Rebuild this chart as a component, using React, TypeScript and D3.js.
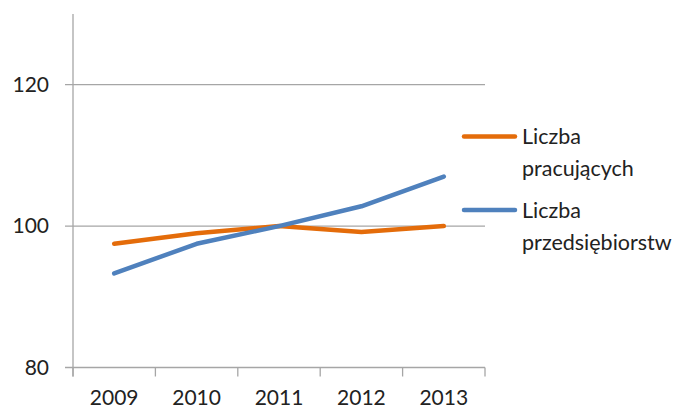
import React from "react";
import * as d3 from "d3";

const categories = ["2009", "2010", "2011", "2012", "2013"];
const pracujacych = [97.5, 99.0, 100.0, 99.15, 100.0];
const przedsiebiorstw = [93.3, 97.5, 100.0, 102.8, 107.0];
const yTicks = [80, 100, 120];
const seriesNames = ["Liczba pracujących", "Liczba przedsiębiorstw"];
const legendLines = [["Liczba", "pracujących"], ["Liczba", "przedsiębiorstw"]];

const W = 681, H = 410;
const left = 73, right = 485, top = 14, bottom = 367.5;
const FONT = "Lato, 'Open Sans', sans-serif";

export default function App() {
  const x = d3.scaleBand().domain(categories).range([left, right]);
  const y = d3.scaleLinear().domain([80, 130]).range([bottom, top]);
  const line = d3
    .line<number>()
    .x((_, i) => (x(categories[i]) as number) + x.bandwidth() / 2)
    .y((d) => y(d));
  const series = [
    { name: seriesNames[0], values: pracujacych, color: "#E46C0A" },
    { name: seriesNames[1], values: przedsiebiorstw, color: "#4F81BD" },
  ];
  const tickXs = categories.map((c) => x(c) as number).concat([right]);
  return (
    <svg width={W} height={H} style={{ position: "absolute", left: 0, top: 0 }} fontFamily={FONT}>
      <rect width={W} height={H} fill="#fff" />
      {yTicks.map((t) => (
        <g key={t}>
          <line x1={65} x2={right} y1={y(t)} y2={y(t)} stroke="#A6A6A6" strokeWidth={1.3} />
          <text x={49} y={y(t)} dy="0.35em" textAnchor="end" fontSize={21} fill="#222">
            {t}
          </text>
        </g>
      ))}
      <line x1={left} x2={left} y1={top} y2={bottom + 9} stroke="#A6A6A6" strokeWidth={1.3} />
      {tickXs.map((tx, i) => (
        <line key={i} x1={tx} x2={tx} y1={bottom} y2={bottom + 9} stroke="#A6A6A6" strokeWidth={1.3} />
      ))}
      {categories.map((c) => (
        <text key={c} x={(x(c) as number) + x.bandwidth() / 2} y={405} textAnchor="middle" fontSize={21} fill="#222">
          {c}
        </text>
      ))}
      {series.map((s) => (
        <path key={s.name} d={line(s.values) || ""} fill="none" stroke={s.color} strokeWidth={4.5} strokeLinecap="round" strokeLinejoin="round" />
      ))}
      {series.map((s, i) => {
        const ly = i === 0 ? 136.5 : 210;
        return (
          <g key={s.name}>
            <line x1={464} x2={515} y1={ly} y2={ly} stroke={s.color} strokeWidth={4.5} strokeLinecap="round" />
            <text x={522} y={ly} dy="0.35em" fontSize={21.5} fill="#222">{legendLines[i][0]}</text>
            <text x={522} y={ly + 32} dy="0.35em" fontSize={21.5} fill="#222">{legendLines[i][1]}</text>
          </g>
        );
      })}
    </svg>
  );
}
